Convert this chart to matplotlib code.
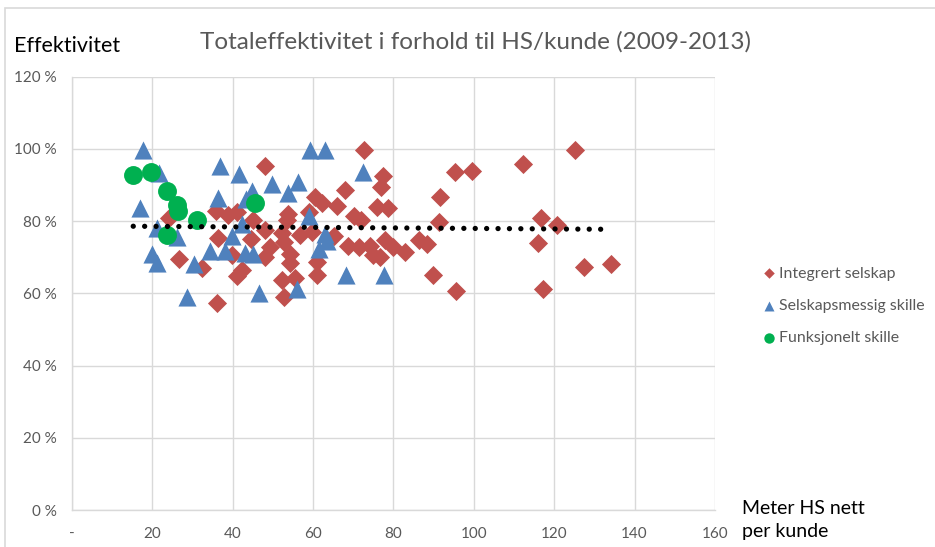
import numpy as np
import matplotlib
matplotlib.use("Agg")
import matplotlib.pyplot as plt
from matplotlib.ticker import FuncFormatter
from matplotlib.patches import Rectangle

# data (x = meter HS per kunde, y = effektivitet in %)
integrert_x = [24.1, 26.6, 32.4, 36.1, 35.9, 36.5, 38.8, 41.1, 39.8, 41.1, 42.3, 44.6,
               45.0, 48.1, 48.1, 49.4, 48.1, 52.3, 52.7, 54.4, 54.4, 53.9, 53.5, 55.6,
               52.3, 52.7, 56.8, 58.9, 59.8, 60.5, 62.2, 61.0, 61.0, 65.2, 65.9, 68.0,
               68.7, 70.1, 71.9, 71.5, 74.3, 75.0, 76.7, 72.6, 77.4, 77.0, 75.9, 78.6,
               77.8, 80.0, 82.9, 86.3, 88.4, 89.9, 95.5, 91.5, 91.3, 95.3, 99.5, 112.2,
               125.2, 116.8, 120.7, 116.1, 117.2, 127.5, 134.1]
integrert_y = [81.0, 69.4, 66.9, 57.2, 82.8, 75.3, 81.7, 82.6, 70.5, 64.7, 66.6, 75.0,
               80.2, 95.4, 77.6, 72.9, 70.0, 76.6, 74.3, 71.0, 68.3, 82.1, 80.3, 64.2,
               63.7, 59.1, 76.2, 82.6, 77.1, 86.8, 85.0, 68.8, 65.1, 75.9, 84.3, 88.6,
               73.1, 81.5, 80.3, 72.7, 73.2, 70.5, 70.1, 99.8, 92.5, 89.5, 84.0, 83.6,
               74.8, 72.9, 71.5, 74.8, 73.8, 65.1, 60.6, 86.7, 79.7, 93.6, 93.9, 95.9,
               99.8, 80.9, 78.8, 74.0, 61.3, 67.3, 68.1]

selskap_x = [17.8, 17.0, 21.8, 20.0, 21.2, 21.2, 26.2, 28.7, 30.5, 36.8, 36.5, 41.7,
             34.5, 38.2, 39.8, 42.3, 43.4, 44.8, 43.2, 45.1, 46.7, 49.8, 53.9, 56.4,
             59.3, 63.1, 72.4, 58.9, 63.1, 63.5, 61.4, 56.0, 68.3, 77.6]
selskap_y = [99.6, 83.7, 93.4, 70.9, 68.5, 78.2, 75.5, 58.9, 68.1, 95.3, 86.4, 93.0,
             71.8, 71.6, 75.9, 79.2, 86.1, 88.4, 71.3, 70.9, 60.2, 90.2, 87.9, 90.7,
             99.6, 99.6, 93.7, 81.5, 76.4, 74.5, 72.3, 61.2, 65.1, 65.1]

funksjon_x = [15.3, 19.8, 23.8, 26.2, 26.5, 31.2, 23.8, 45.6]
funksjon_y = [92.8, 93.6, 88.4, 84.5, 82.8, 80.4, 76.2, 85.1]

x_ticks = [0, 20, 40, 60, 80, 100, 120, 140, 160]
y_ticks = [0, 20, 40, 60, 80, 100, 120]

RED = "#C0504D"
BLUE = "#4F81BD"
GREEN = "#00B050"
GREY = "#595959"
GRID = "#D9D9D9"

plt.rcParams["font.family"] = ["Lato", "DejaVu Sans"]

fig = plt.figure(figsize=(9.35, 5.47), dpi=100)
ax = fig.add_axes([0.0767, 0.0676, 0.688, 0.7922])

ax.scatter(integrert_x, integrert_y, marker="D", s=95, color=RED,
           label="Integrert selskap", zorder=3, linewidths=0)
ax.scatter(selskap_x, selskap_y, marker="^", s=170, color=BLUE,
           label="Selskapsmessig skille", zorder=4, linewidths=0)
ax.scatter(funksjon_x, funksjon_y, marker="o", s=185, color=GREEN,
           label="Funksjonelt skille", zorder=5, linewidths=0)

# linear trend over all points
all_x = np.array(integrert_x + selskap_x + funksjon_x)
all_y = np.array(integrert_y + selskap_y + funksjon_y)
b, a = np.polyfit(all_x, all_y, 1)
tx = np.linspace(all_x.min(), all_x.max(), 100)
ax.plot(tx, a + b * tx, color="black", linewidth=3.8,
        linestyle=(0, (0.01, 2.15)), dash_capstyle="round", zorder=6)

ax.set_xlim(0, 160)
ax.set_ylim(0, 120)
ax.set_xticks(x_ticks)
ax.set_yticks(y_ticks)
ax.xaxis.set_major_formatter(FuncFormatter(lambda v, p: "-" if v == 0 else f"{v:.0f}"))
ax.yaxis.set_major_formatter(FuncFormatter(lambda v, p: f"{v:.0f} %"))
ax.grid(True, color=GRID, linewidth=1.0, zorder=0)
ax.set_axisbelow(True)
for side in ["top", "right"]:
    ax.spines[side].set_visible(False)
for side in ["left", "bottom"]:
    ax.spines[side].set_color(GRID)
    ax.spines[side].set_linewidth(1.0)
ax.tick_params(length=0, labelsize=11, labelcolor=GREY)
ax.tick_params(axis="x", pad=12)
ax.tick_params(axis="y", pad=11)

fig.text(0.509, 0.923, "Totaleffektivitet i forhold til HS/kunde (2009-2013)",
         ha="center", va="center", fontsize=17.5, color=GREY)
fig.text(0.015, 0.916, "Effektivitet", ha="left", va="center", fontsize=15.5, color="black")
fig.text(0.794, 0.049, "Meter HS nett\nper kunde", ha="left", va="center",
         fontsize=14, color="black", linespacing=1.4)

ax.legend(loc="center left", bbox_to_anchor=(0.806, 0.441), bbox_transform=fig.transFigure,
          frameon=False, fontsize=11.4, labelcolor=GREY, handletextpad=0.1,
          labelspacing=1.15, markerscale=0.55, borderpad=0, handlelength=1.0)

# chart border (only left and top visible in the crop)
fig.patches.append(Rectangle((5 / 935, -0.1), 1.2, 1.0 - 8 / 547 + 0.1,
                             transform=fig.transFigure, fill=False,
                             edgecolor=GRID, linewidth=1.2))

fig.savefig("out.png", dpi=100)
